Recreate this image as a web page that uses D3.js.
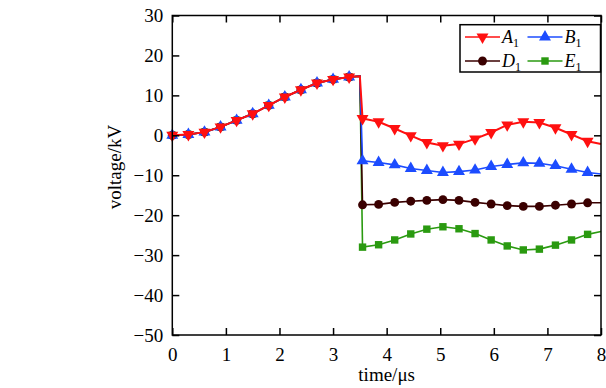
<!DOCTYPE html>
<html lang="en">
<head>
<meta charset="utf-8">
<title>voltage</title>
<script src="https://cdn.jsdelivr.net/npm/d3@7"></script>
<style>
  body { margin: 0; background: #fff; }
  svg text { font-family: "Times New Roman", "Liberation Serif", "DejaVu Serif", serif; fill: #000; }
</style>
</head>
<body>
<div id="chart"></div>
<script>
// shared rising part (all four series sit on top of each other here)
var riseTime = [0, 0.3, 0.6, 0.9, 1.2, 1.5, 1.8, 2.1, 2.4, 2.7, 3.0, 3.3]
var riseVolt = [0, 0.2, 0.8, 2.1, 3.75, 5.4, 7.5, 9.6, 11.4, 13.1, 14.0, 14.6]
var plateauTime = 3.5
var plateauVolt = 14.8

// after the drop, last point (8) has no marker
var postTime = [3.55, 3.85, 4.15, 4.45, 4.75, 5.05, 5.35, 5.65, 5.95, 6.25, 6.55, 6.85, 7.15, 7.45, 7.75, 8.0]
var a1Volt = [4.2, 3.4, 1.7, -0.1, -1.8, -2.6, -2.2, -0.9, 0.7, 2.6, 3.4, 3.2, 1.9, 0.2, -1.5, -2.2]
var b1Volt = [-6.4, -6.8, -7.4, -8.3, -8.8, -9.3, -9.1, -8.7, -7.8, -7.3, -6.9, -7.0, -7.6, -8.5, -9.3, -9.7]
var d1Volt = [-17.4, -17.3, -16.8, -16.5, -16.3, -16.1, -16.3, -16.8, -17.2, -17.6, -17.8, -17.8, -17.5, -17.2, -16.9, -16.9]
var e1Volt = [-28.0, -27.4, -26.2, -24.7, -23.5, -22.9, -23.4, -24.6, -26.2, -27.7, -28.7, -28.5, -27.5, -26.2, -24.8, -24.1]

var xTicks = [0, 1, 2, 3, 4, 5, 6, 7, 8]
var yTicks = [30, 20, 10, 0, -10, -20, -30, -40, -50]

var seriesNames = ["E", "D", "B", "A"]
var seriesPost = {A: a1Volt, B: b1Volt, D: d1Volt, E: e1Volt}
var colors = {A: "#ff1010", B: "#1c4cff", D: "#3a0000", E: "#2a9a10"}
var shapes = {A: "down", B: "up", D: "circle", E: "square"}

var W = 606, H = 388
// (window.top is reserved, so plot edges get their own names)
var plotL = 172.3, plotR = 601, plotT = 15.5, plotB = 335
var serif = "'Times New Roman', 'Liberation Serif', 'DejaVu Serif', serif"

var svg = d3.select("#chart").append("svg")
  .attr("width", W).attr("height", H)

var x = d3.scaleLinear().domain([0, 8]).range([plotL, plotR])
var y = d3.scaleLinear().domain([-50, 30]).range([plotB, plotT])

function pointsFor(name) {
  var pts = []
  riseTime.forEach(function(t, i) { pts.push({t: t, v: riseVolt[i], mark: true}) })
  pts.push({t: plateauTime, v: plateauVolt, mark: false})
  postTime.forEach(function(t, i) {
    pts.push({t: t, v: seriesPost[name][i], mark: i < postTime.length - 1})
  })
  return pts
}

function symbolFor(kind) {
  if (kind == "down" || kind == "up") return d3.symbol().type(d3.symbolTriangle).size(62)()
  if (kind == "circle") return d3.symbol().type(d3.symbolCircle).size(62)()
  return d3.symbol().type(d3.symbolSquare).size(55)()
}

function drawMarker(g, kind, cx, cy, color) {
  g.append("path")
    .attr("d", symbolFor(kind))
    .attr("transform", "translate(" + cx + "," + cy + ")" + (kind == "down" ? " rotate(180)" : ""))
    .attr("fill", color)
}

var line = d3.line()
  .x(function(d) { return x(d.t) })
  .y(function(d) { return y(d.v) })

var plot = svg.append("g")

seriesNames.forEach(function(name) {
  var pts = pointsFor(name)
  plot.append("path")
    .datum(pts)
    .attr("d", line)
    .attr("fill", "none")
    .attr("stroke", colors[name])
    .attr("stroke-width", name == "A" ? 2 : 1.6)
  pts.filter(function(d) { return d.mark }).forEach(function(d) {
    drawMarker(plot, shapes[name], x(d.t), y(d.v), colors[name])
  })
})

// frame + ticks inward on all four sides
svg.append("rect")
  .attr("x", plotL).attr("y", plotT)
  .attr("width", plotR - plotL).attr("height", plotB - plotT)
  .attr("fill", "none").attr("stroke", "#000").attr("stroke-width", 1.5)

svg.append("g").attr("transform", "translate(0," + plotB + ")")
  .call(d3.axisBottom(x).tickValues(xTicks).tickSizeInner(-7).tickSizeOuter(0).tickPadding(13))
svg.append("g").attr("transform", "translate(0," + plotT + ")")
  .call(d3.axisTop(x).tickValues(xTicks).tickSizeInner(-7).tickSizeOuter(0).tickFormat(""))
svg.append("g").attr("transform", "translate(" + plotL + ",0)")
  .call(d3.axisLeft(y).tickValues(yTicks).tickSizeInner(-7).tickSizeOuter(0).tickPadding(9)
    .tickFormat(function(d) { return d < 0 ? "\u2212" + Math.abs(d) : d }))
svg.append("g").attr("transform", "translate(" + plotR + ",0)")
  .call(d3.axisRight(y).tickValues(yTicks).tickSizeInner(-7).tickSizeOuter(0).tickFormat(""))

svg.selectAll(".domain").remove()
svg.selectAll("g").attr("font-family", null)
svg.selectAll(".tick line").attr("stroke", "#000").attr("stroke-width", 1.5)
svg.selectAll(".tick text")
  .style("font-family", serif)
  .style("font-size", "19px")
  .attr("fill", "#000")

svg.append("text")
  .attr("x", (plotL + plotR) / 2).attr("y", 381)
  .attr("text-anchor", "middle")
  .style("font-family", serif)
  .style("font-size", "19px")
  .text("time/\u03bcs")

svg.append("text")
  .attr("transform", "translate(121,167) rotate(-90)")
  .attr("text-anchor", "middle")
  .style("font-family", serif)
  .style("font-size", "19px")
  .text("voltage/kV")

// legend
var lg = svg.append("g")
lg.append("rect")
  .attr("x", 460).attr("y", 24.7).attr("width", 140.5).attr("height", 47.3)
  .attr("fill", "#fff").attr("stroke", "#000").attr("stroke-width", 1.5)

var legendItems = [
  {name: "A", lx: 465, ly: 37},
  {name: "B", lx: 527.5, ly: 37},
  {name: "D", lx: 465, ly: 61},
  {name: "E", lx: 527.5, ly: 61}
]
legendItems.forEach(function(it) {
  lg.append("line")
    .attr("x1", it.lx).attr("x2", it.lx + 35)
    .attr("y1", it.ly).attr("y2", it.ly)
    .attr("stroke", colors[it.name]).attr("stroke-width", 1.5)
  drawMarker(lg, shapes[it.name], it.lx + 17.5, it.ly, colors[it.name])
  var t = lg.append("text")
    .attr("x", it.lx + 37).attr("y", it.ly + 6)
    .style("font-family", serif)
    .style("font-size", "18px")
  t.append("tspan").style("font-style", "italic").text(it.name)
  t.append("tspan").attr("dy", 4).style("font-size", "12px").text("1")
})
</script>
</body>
</html>
